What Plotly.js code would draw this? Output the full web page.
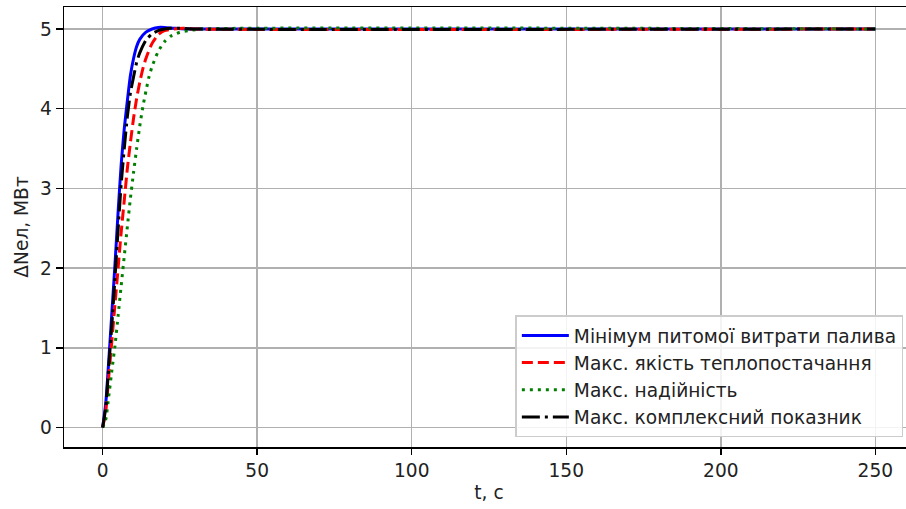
<!DOCTYPE html>
<html>
<head>
<meta charset="utf-8">
<script src="https://cdn.plot.ly/plotly-3.0.1.min.js"></script>
<style>
html,body{margin:0;padding:0;overflow:hidden;background:#fff;}
#chart{width:914px;height:509px;}
</style>
</head>
<body>
<div id="chart"></div>
<script>
// Series names
const seriesNames = [
  "Мінімум питомої витрати палива",
  "Макс. якість теплопостачання",
  "Макс. надійність",
  "Макс. комплексний показник"
];

// Blue: min specific fuel consumption
const tBlue = [0,1,2,3,4,5,6,7,8,9,10,11,12,14,16,18,20,23,27,250];
const yBlue = [0,0.3,0.85,1.45,2.05,2.7,3.3,3.75,4.1,4.42,4.63,4.78,4.87,4.96,5.0,5.02,5.02,5.01,5.0,5.0];

// Red: max heat supply quality
const tRed = [0,1,2,3,4,5,6,7,8,9,10,11,12,13,14,16,18,20,23,26,30,250];
const yRed = [0,0.2,0.65,1.1,1.55,2.0,2.45,2.85,3.25,3.58,3.88,4.13,4.33,4.5,4.63,4.82,4.93,4.98,5.0,5.01,5.0,5.0];

// Green: max reliability
const tGreen = [0,1,2,3,4,5,6,7,8,9,10,11,12,13,14,15,16,18,20,22,25,28,32,250];
const yGreen = [0,0.1,0.4,0.72,1.03,1.4,1.78,2.15,2.52,2.88,3.2,3.5,3.78,4.02,4.22,4.4,4.53,4.72,4.84,4.91,4.96,4.98,5.0,5.0];

// Black: max complex index
const tBlack = [0,1,2,3,4,5,6,7,8,9,10,11,12,14,16,18,20,22,25,30,250];
const yBlack = [0,0.25,0.78,1.3,1.88,2.48,3.05,3.5,3.9,4.2,4.4,4.58,4.7,4.86,4.94,4.98,5.0,5.01,5.01,5.0,5.0];

const xTicks = [0,50,100,150,200,250];
const yTicks = [0,1,2,3,4,5];

const FONT = "DejaVu Sans, sans-serif";
const FS = 18.6;

const traces = [
  {x:tBlue, y:yBlue, name:seriesNames[0], mode:"lines", line:{color:"#0000ff", width:3, shape:"spline", smoothing:0.6}},
  {x:tRed, y:yRed, name:seriesNames[1], mode:"lines", line:{color:"#ff0000", width:3, dash:"11px,5px", shape:"spline", smoothing:0.6}},
  {x:tGreen, y:yGreen, name:seriesNames[2], mode:"lines", line:{color:"#008000", width:3, dash:"3px,5px", shape:"spline", smoothing:0.6}},
  {x:tBlack, y:yBlack, name:seriesNames[3], mode:"lines", line:{color:"#000000", width:3, dash:"18px,5px,3px,5px", shape:"spline", smoothing:0.6}}
];

const layout = {
  width:914, height:509,
  margin:{l:64, r:0, t:7, b:62},
  paper_bgcolor:"#fff", plot_bgcolor:"#fff",
  font:{family:FONT, size:FS, color:"#222"},
  showlegend:true,
  legend:{
    x:0.531, y:0.022, xanchor:"left", yanchor:"bottom",
    bgcolor:"rgba(255,255,255,0.85)", bordercolor:"#cccccc", borderwidth:1.5,
    font:{family:FONT, size:FS, color:"#222"},
    itemwidth:47
  },
  xaxis:{
    range:[-12.5,262.5], tickvals:xTicks, ticktext:xTicks.map(String),
    showgrid:true, gridcolor:"#b0b0b0", gridwidth:1.5, zeroline:false,
    showline:true, linecolor:"#000", linewidth:1.5, mirror:true,
    ticks:"outside", ticklen:6, tickwidth:1.5, tickcolor:"#000",
    tickfont:{family:FONT, size:FS, color:"#222"},
    title:{text:"t, с", font:{family:FONT, size:FS, color:"#222"}, standoff:6}
  },
  yaxis:{
    range:[-0.244,5.276], tickvals:yTicks, ticktext:yTicks.map(String),
    showgrid:true, gridcolor:"#b0b0b0", gridwidth:1.5, zeroline:false,
    showline:true, linecolor:"#000", linewidth:1.5, mirror:true,
    ticks:"outside", ticklen:7, tickwidth:1.5, tickcolor:"#000",
    tickfont:{family:FONT, size:FS, color:"#222"},
    title:{text:"ΔNел, МВт", font:{family:FONT, size:FS, color:"#222"}, standoff:6}
  }
};

Plotly.newPlot("chart", traces, layout, {staticPlot:true, displayModeBar:false});
</script>
</body>
</html>
